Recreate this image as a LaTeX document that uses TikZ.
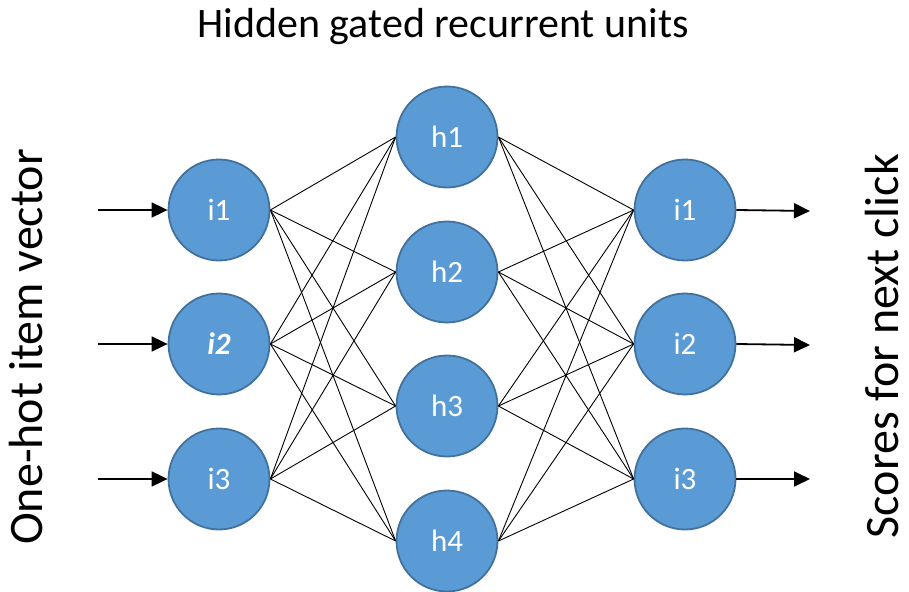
\documentclass[tikz,border=0pt]{standalone}
\usepackage{fontspec}
\setmainfont{Carlito}
\usetikzlibrary{arrows.meta}
\definecolor{unitfill}{HTML}{5B9BD5}
\definecolor{unitedge}{HTML}{41719C}
\begin{document}
\begin{tikzpicture}[x=1pt,y=-1pt,
  unit/.style={circle,fill=unitfill,draw=unitedge,line width=1.8pt,
    minimum size=101pt,inner sep=0pt,text=white,font=\fontsize{31}{36}\selectfont},
  link/.style={line width=0.9pt},
  flow/.style={line width=1.8pt,-{Triangle[length=16pt,width=15pt]}},
  caption/.style={font=\fontsize{42}{48}\selectfont,inner sep=0pt},
  sidecaption/.style={font=\fontsize{48}{54}\selectfont,inner sep=0pt,rotate=90}]
\useasboundingbox (0,0) rectangle (909,591);

% input layer
\node[unit] (x1) at (219,210) {i1};
\node[unit] (x2) at (219,344) {\textbf{\textit{i2}}};
\node[unit] (x3) at (219,479) {i3};

% hidden layer
\node[unit] (h1) at (447,137) {h1};
\node[unit] (h2) at (447,272) {h2};
\node[unit] (h3) at (447,406) {h3};
\node[unit] (h4) at (447,541) {h4};

% output layer
\node[unit] (y1) at (685,210) {i1};
\node[unit] (y2) at (685,344) {i2};
\node[unit] (y3) at (685,479) {i3};

% full connections
\foreach \a in {x1,x2,x3}
  \foreach \b in {h1,h2,h3,h4}
    \draw[link] (\a.east) -- (\b.west);
\foreach \a in {h1,h2,h3,h4}
  \foreach \b in {y1,y2,y3}
    \draw[link] (\a.east) -- (\b.west);

% input and output arrows
\coordinate (s1) at (98,210);
\coordinate (s2) at (98,344);
\coordinate (s3) at (98,479);
\coordinate (t1) at (810,211);
\coordinate (t2) at (810,345);
\coordinate (t3) at (810,479);
\foreach \i in {1,2,3} {
  \draw[flow] (s\i) -- (x\i.west);
  \draw[flow] (y\i.east) -- (t\i);
}

% captions
\node[caption] (title) at (443,27) {Hidden gated recurrent units};
\node[sidecaption] (inlab) at (26,347) {One-hot item vector};
\node[sidecaption] (outlab) at (882,346) {Scores for next click};
\end{tikzpicture}
\end{document}
